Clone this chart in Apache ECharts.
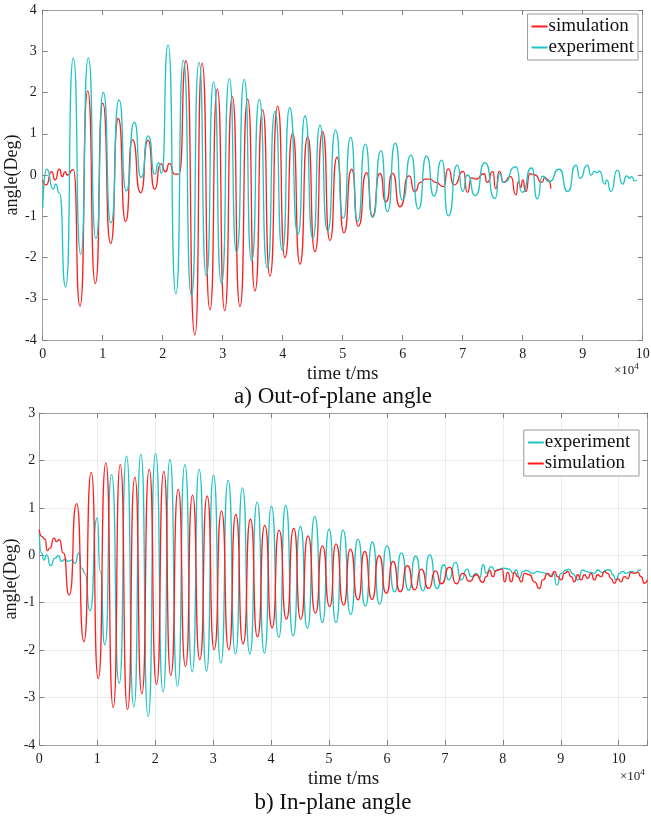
<!DOCTYPE html>
<html>
<head>
<meta charset="utf-8">
<script src="https://cdn.jsdelivr.net/npm/echarts@6/dist/echarts.min.js"></script>
<style>
html,body{margin:0;padding:0;background:#fff;}
#c{width:651px;height:816px;}
</style>
</head>
<body>
<div id="c"></div>
<script>
// ---- data (time in units of 1e4 ms, angle in degrees) ----
const topTicksX = [0,1,2,3,4,5,6,7,8,9,10];
const topTicksY = [-4,-3,-2,-1,0,1,2,3,4];
const botTicksX = [0,1,2,3,4,5,6,7,8,9,10];
const botTicksY = [-4,-3,-2,-1,0,1,2,3];

// a) Out-of-plane angle : experiment
const topExpT = [0,0.067,0.177,0.216,0.277,0.383,0.51,0.633,0.76,0.888,1.01,1.138,1.272,1.393,1.527,1.64,1.76,1.87,1.93,1.98,2.09,2.22,2.345,2.48,2.605,2.727,2.849,2.98,3.11,3.232,3.36,3.482,3.61,3.744,3.871,3.994,4.116,4.255,4.371,4.505,4.621,4.749,4.882,5.01,5.133,5.249,5.377,5.499,5.638,5.744,5.877,5.994,6.138,6.26,6.399,6.521,6.649,6.76,6.91,7.0,7.077,7.21,7.37,7.538,7.62,7.68,7.888,7.99,8.149,8.244,8.33,8.44,8.61,8.749,8.888,8.955,9.077,9.138,9.2,9.24,9.277,9.37,9.4,9.47,9.577,9.666,9.73,9.78,9.82,9.86,9.9];
const topExpA = [-0.81,0.14,-0.34,-0.22,-0.44,-2.72,2.83,-1.92,2.84,-1.54,2.0,-1.16,1.82,-0.39,1.28,-0.06,0.95,0.02,0.3,0.04,3.15,-2.88,2.78,-2.93,2.73,-2.45,2.26,-2.63,2.33,-1.88,2.32,-2.08,1.83,-2.25,1.54,-1.83,1.63,-1.44,1.43,-1.54,1.21,-1.36,1.09,-1.05,0.91,-1.13,0.75,-1.03,0.59,-0.89,0.77,-0.61,0.48,-0.82,0.46,-0.51,0.36,-0.99,0.24,-0.4,0.0,-0.5,0.3,-0.57,0.04,-0.18,0.2,-0.42,0.17,-0.58,-0.03,-0.16,0.14,-0.4,0.24,-0.08,0.24,0.0,0.09,0.05,0.1,-0.22,-0.12,-0.4,0.12,-0.22,-0.02,-0.08,-0.04,-0.14,-0.12];

// a) Out-of-plane angle : simulation
const topSimT = [0,0.055,0.15,0.205,0.277,0.327,0.372,0.41,0.51,0.622,0.75,0.878,1.0,1.133,1.26,1.383,1.494,1.633,1.755,1.866,1.966,2.05,2.11,2.2,2.27,2.39,2.538,2.655,2.788,2.91,3.033,3.16,3.288,3.416,3.538,3.666,3.788,3.916,4.038,4.166,4.288,4.416,4.538,4.666,4.788,4.905,5.02,5.149,5.26,5.399,5.494,5.62,5.72,5.83,5.955,6.105,6.2,6.3,6.37,6.455,6.55,6.677,6.76,6.855,7.01,7.077,7.149,7.22,7.355,7.41,7.5,7.55,7.61,7.68,7.8,7.888,7.93,7.97,8.0,8.05,8.12,8.2,8.32,8.37,8.42,8.47];
const topSimA = [-0.12,-0.24,0.08,-0.12,0.14,-0.04,0.08,0.0,0.13,-3.18,2.04,-2.63,1.74,-1.66,1.37,-1.13,0.86,-0.43,0.84,-0.35,0.27,0.08,0.28,0.02,0.02,2.77,-3.88,2.71,-3.27,2.08,-3.29,1.9,-3.19,1.84,-2.81,1.58,-2.45,1.67,-2.0,1.01,-2.16,0.93,-1.86,1.05,-1.59,0.43,-1.4,0.14,-1.24,0.06,-1.0,0.04,-0.65,0.04,-0.77,-0.02,-0.4,-0.18,-0.1,-0.1,-0.18,-0.28,0.15,-0.24,0.09,-0.42,-0.07,-0.1,0.03,-0.18,0.09,-0.33,0.09,-0.18,-0.04,-0.48,-0.16,-0.3,-0.12,-0.4,0.03,0.0,-0.18,-0.06,-0.12,-0.33];

// b) In-plane angle : experiment
const botExpT = [0,0.04,0.08,0.126,0.195,0.27,0.328,0.385,0.443,0.5,0.557,0.615,0.684,0.73,0.787,0.874,1.0,1.05,1.132,1.247,1.379,1.506,1.632,1.753,1.879,2.006,2.138,2.253,2.385,2.512,2.639,2.759,2.886,3.006,3.133,3.259,3.386,3.506,3.633,3.759,3.886,4.006,4.133,4.253,4.38,4.506,4.627,4.753,4.886,5.0,5.12,5.242,5.374,5.5,5.627,5.748,5.874,6.0,6.133,6.248,6.374,6.495,6.621,6.736,6.863,6.983,7.064,7.184,7.282,7.38,7.455,7.54,7.598,7.66,7.713,7.8,7.874,7.92,8.012,8.115,8.173,8.23,8.288,8.345,8.403,8.517,8.604,8.661,8.747,8.816,8.874,8.931,9.006,9.092,9.138,9.207,9.293,9.38,9.437,9.506,9.58,9.638,9.724,9.782,9.851,9.897,9.954,10.012,10.069,10.126,10.213,10.3,10.356,10.385];
const botExpA = [0.47,0.05,-0.1,0.01,-0.22,-0.06,-0.01,-0.13,-0.08,-0.13,-0.1,-0.17,0.05,-0.27,-0.38,-1.17,0.79,-0.33,-1.89,1.7,-2.7,2.09,-3.2,2.13,-3.4,2.15,-2.88,2.02,-2.76,1.91,-2.46,1.81,-2.44,1.69,-2.27,1.58,-2.08,1.42,-2.08,1.12,-2.06,1.03,-1.73,1.05,-1.7,0.61,-1.54,0.82,-1.42,0.55,-1.42,0.53,-1.25,0.34,-1.07,0.28,-1.03,0.2,-0.77,0.05,-0.74,-0.02,-0.75,0.01,-0.7,-0.2,-0.52,-0.15,-0.52,-0.29,-0.45,-0.38,-0.48,-0.2,-0.38,-0.24,-0.34,-0.3,-0.27,-0.29,-0.38,-0.31,-0.48,-0.34,-0.32,-0.38,-0.34,-0.36,-0.38,-0.44,-0.37,-0.63,-0.38,-0.31,-0.29,-0.39,-0.52,-0.31,-0.34,-0.36,-0.38,-0.31,-0.37,-0.31,-0.31,-0.41,-0.52,-0.38,-0.34,-0.38,-0.34,-0.37,-0.31,-0.3];

// b) In-plane angle : simulation
const botSimT = [0,0.04,0.098,0.138,0.184,0.253,0.299,0.345,0.414,0.517,0.644,0.77,0.897,1.017,1.149,1.276,1.397,1.523,1.649,1.77,1.897,2.023,2.149,2.27,2.397,2.523,2.644,2.77,2.897,3.018,3.144,3.271,3.391,3.518,3.644,3.765,3.891,4.018,4.138,4.265,4.391,4.512,4.638,4.765,4.886,5.012,5.12,5.253,5.368,5.5,5.615,5.742,5.863,5.989,6.104,6.23,6.351,6.478,6.592,6.719,6.84,6.937,7.081,7.196,7.31,7.426,7.54,7.656,7.713,7.77,7.828,7.885,7.989,8.029,8.086,8.144,8.201,8.259,8.316,8.374,8.46,8.546,8.632,8.69,8.776,8.834,8.891,8.948,9.006,9.064,9.121,9.178,9.236,9.293,9.351,9.408,9.466,9.523,9.58,9.638,9.695,9.753,9.81,9.868,9.925,9.983,10.04,10.098,10.155,10.213,10.27,10.328,10.385,10.443,10.49];
const botSimA = [0.54,0.4,0.34,0.1,0.15,0.36,0.29,0.33,0.05,-0.84,1.09,-1.82,1.75,-2.6,1.95,-3.21,1.91,-3.25,1.65,-2.92,1.81,-2.72,1.77,-2.53,1.39,-2.34,1.27,-2.2,1.25,-1.99,0.93,-1.99,0.86,-1.87,0.76,-1.72,0.63,-1.53,0.53,-1.35,0.57,-1.35,0.41,-1.22,0.2,-1.08,0.24,-1.05,0.13,-0.94,0.08,-0.93,-0.01,-0.8,-0.13,-0.77,-0.22,-0.73,-0.29,-0.7,-0.33,-0.6,-0.25,-0.6,-0.38,-0.55,-0.41,-0.57,-0.45,-0.32,-0.45,-0.32,-0.29,-0.56,-0.36,-0.56,-0.36,-0.45,-0.56,-0.38,-0.41,-0.56,-0.7,-0.52,-0.38,-0.45,-0.34,-0.45,-0.52,-0.38,-0.34,-0.45,-0.56,-0.41,-0.52,-0.41,-0.49,-0.38,-0.52,-0.41,-0.45,-0.34,-0.38,-0.49,-0.59,-0.49,-0.56,-0.45,-0.49,-0.36,-0.38,-0.36,-0.45,-0.59,-0.52];

// ---- chart ----
const RED = '#ff1e1e';
const CYAN = '#1fc4c4';
const FONT = '"Liberation Serif","Times New Roman",serif';
const zip = (t, a) => t.map((v, i) => [v, a[i]]);

function xAxes(gi, max, showGrid) {
  const base = {
    type: 'value', gridIndex: gi, min: 0, max: max, interval: 1,
    axisLine: {show: true, onZero: false, lineStyle: {color: '#a0a0a0', width: 1}},
    axisTick: {show: true, inside: true, length: 5, lineStyle: {color: '#808080'}},
  };
  return [
    Object.assign({}, base, {
      position: 'bottom',
      axisLabel: {show: true, color: '#1a1a1a', fontFamily: FONT, fontSize: 14, margin: 7,
        formatter: v => Number.isInteger(v) ? String(v) : ''},
      splitLine: {show: showGrid, lineStyle: {color: '#ebebeb', width: 1}},
      name: 'time t/ms', nameLocation: 'middle', nameGap: 25,
      nameTextStyle: {color: '#1a1a1a', fontFamily: FONT, fontSize: 19}
    }),
    Object.assign({}, base, {position: 'top', axisLabel: {show: false}, splitLine: {show: false}})
  ];
}
function yAxes(gi, min, max, showGrid, margin) {
  const base = {
    type: 'value', gridIndex: gi, min: min, max: max, interval: 1,
    axisLine: {show: true, onZero: false, lineStyle: {color: '#a0a0a0', width: 1}},
    axisTick: {show: true, inside: true, length: 5, lineStyle: {color: '#808080'}},
  };
  return [
    Object.assign({}, base, {
      position: 'left',
      axisLabel: {show: true, color: '#1a1a1a', fontFamily: FONT, fontSize: 14, margin: margin},
      splitLine: {show: showGrid, lineStyle: {color: '#ebebeb', width: 1}}
    }),
    Object.assign({}, base, {position: 'right', axisLabel: {show: false}, splitLine: {show: false}})
  ];
}

const chart = echarts.init(document.getElementById('c'), null, {renderer: 'canvas'});
const lineBase = {type: 'line', showSymbol: false, symbol: 'none', smooth: 0.72, smoothMonotone: 'x', animation: false};
const sup = {a: {fontFamily: FONT, fontSize: 13, fill: '#1a1a1a'}, b: {fontFamily: FONT, fontSize: 9, fill: '#1a1a1a', verticalAlign: 'top', padding: [0,0,8,0]}};

chart.setOption({
  backgroundColor: '#fff',
  animation: false,
  grid: [
    {left: 42.7, top: 10, width: 600, height: 330, containLabel: false, outerBoundsMode: 'none'},
    {left: 39.3, top: 413, width: 608.4, height: 332, containLabel: false, outerBoundsMode: 'none'}
  ],
  xAxis: [...xAxes(0, 10, false), ...xAxes(1, 10.5, true)],
  yAxis: [...yAxes(0, -4, 4, false, 6), ...yAxes(1, -4, 3, true, 4)],
  legend: [
    {data: ['simulation', 'experiment'].map(n => ({name: n})), orient: 'vertical', right: 13, top: 14,
     itemWidth: 16, itemHeight: 2, itemGap: 2, padding: [3, 4, 3, 3], borderColor: '#999', borderWidth: 1,
     backgroundColor: '#fff', textStyle: {fontFamily: FONT, fontSize: 19, color: '#111', padding: [0,0,0,-4]},
     selectedMode: false},
    {data: ['experiment ', 'simulation '].map(n => ({name: n})), orient: 'vertical', right: 12, top: 430,
     itemWidth: 16, itemHeight: 2, itemGap: 2, padding: [3, 4, 3, 3], borderColor: '#999', borderWidth: 1,
     backgroundColor: '#fff', textStyle: {fontFamily: FONT, fontSize: 19, color: '#111', padding: [0,0,0,-4]},
     selectedMode: false}
  ],
  series: [
    Object.assign({}, lineBase, {name: 'simulation', xAxisIndex: 0, yAxisIndex: 0, data: zip(topSimT, topSimA), lineStyle: {color: RED, width: 1.3}, itemStyle: {color: RED}}),
    Object.assign({}, lineBase, {name: 'experiment', xAxisIndex: 0, yAxisIndex: 0, data: zip(topExpT, topExpA), lineStyle: {color: CYAN, width: 1.3}, itemStyle: {color: CYAN}}),
    Object.assign({}, lineBase, {name: 'experiment ', xAxisIndex: 2, yAxisIndex: 2, data: zip(botExpT, botExpA), lineStyle: {color: CYAN, width: 1.3}, itemStyle: {color: CYAN}}),
    Object.assign({}, lineBase, {name: 'simulation ', xAxisIndex: 2, yAxisIndex: 2, data: zip(botSimT, botSimA), lineStyle: {color: RED, width: 1.3}, itemStyle: {color: RED}})
  ],
  graphic: [
    {type: 'text', x: 12, y: 175, rotation: Math.PI / 2, style: {text: 'angle(Deg)', fontFamily: FONT, fontSize: 18, fill: '#1a1a1a', align: 'center', verticalAlign: 'middle'}},
    {type: 'text', x: 11, y: 579, rotation: Math.PI / 2, style: {text: 'angle(Deg)', fontFamily: FONT, fontSize: 18, fill: '#1a1a1a', align: 'center', verticalAlign: 'middle'}},
    {type: 'text', left: 614, top: 362, style: {text: '{a|×10}{b|4}', rich: sup}},
    {type: 'text', left: 620, top: 768, style: {text: '{a|×10}{b|4}', rich: sup}},
    {type: 'text', x: 333, y: 397, style: {text: 'a) Out-of-plane angle', fontFamily: FONT, fontSize: 23, fill: '#111', align: 'center', verticalAlign: 'middle'}},
    {type: 'text', x: 333, y: 803, style: {text: 'b) In-plane angle', fontFamily: FONT, fontSize: 23, fill: '#111', align: 'center', verticalAlign: 'middle'}}
  ]
});
</script>
</body>
</html>
